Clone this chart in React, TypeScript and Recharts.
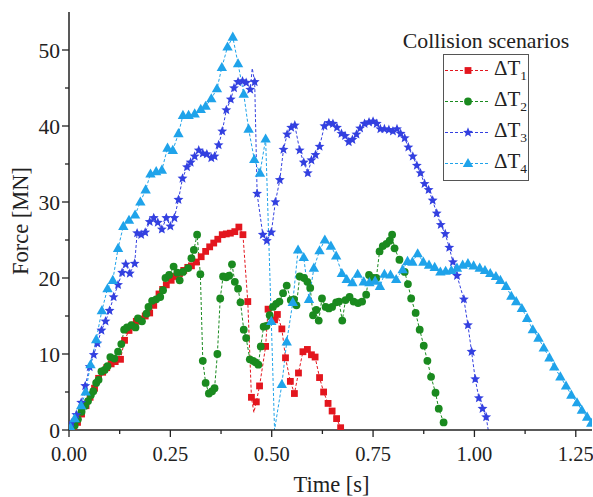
import React from "react";
import { LineChart, Line, XAxis, YAxis, Legend } from "recharts";

const FONT = '"Liberation Serif", "Times New Roman", serif';
const INK = "#222";

// [time s, force MN]
const dt1 = [
  [0.011, 0.2], [0.021, 1.0], [0.031, 2.1], [0.042, 3.2], [0.052, 4.3], [0.063, 5.5], [0.073, 6.8],
  [0.083, 7.6], [0.093, 8.2], [0.104, 8.7], [0.114, 9.0], [0.127, 9.3], [0.137, 11.8], [0.148, 13.1],
  [0.157, 13.8], [0.166, 14.3], [0.177, 14.6], [0.188, 15.0], [0.199, 15.4], [0.209, 16.4], [0.222, 17.9],
  [0.231, 18.5], [0.240, 19.1], [0.252, 19.7], [0.262, 20.2], [0.273, 20.6], [0.283, 21.0], [0.293, 21.4],
  [0.302, 21.6], [0.314, 22.1], [0.326, 22.8], [0.337, 23.5], [0.347, 24.1], [0.357, 24.6], [0.367, 25.1],
  [0.378, 25.7], [0.388, 25.8], [0.398, 25.9], [0.409, 26.1], [0.419, 26.7], [0.429, 25.7], [0.441, 16.9],
  [0.450, 4.3], [0.456, 2.3], [0.462, 3.7], [0.470, 5.8], [0.485, 11.0], [0.491, 15.9], [0.507, 14.5],
  [0.514, 15.2], [0.525, 13.3], [0.534, 9.5], [0.546, 6.4], [0.556, 4.8], [0.566, 7.5], [0.577, 10.3],
  [0.588, 10.6], [0.598, 9.9], [0.607, 9.6], [0.618, 6.9], [0.628, 5.0], [0.639, 3.5], [0.649, 2.5],
  [0.660, 1.5], [0.670, 0.3],
];

const dt2 = [
  [0.006, 0.1], [0.014, 0.6], [0.022, 1.4], [0.031, 2.4], [0.040, 3.2], [0.047, 3.8], [0.054, 4.6],
  [0.060, 5.1], [0.067, 6.2], [0.073, 6.6], [0.080, 7.7], [0.088, 7.9], [0.095, 8.4], [0.102, 9.6],
  [0.112, 9.4], [0.121, 10.3], [0.129, 11.3], [0.136, 13.2], [0.143, 13.5], [0.154, 13.8], [0.164, 13.5],
  [0.170, 14.7], [0.180, 14.3], [0.191, 15.3], [0.196, 16.2], [0.205, 17.0], [0.215, 17.2], [0.225, 17.5],
  [0.232, 18.4], [0.238, 20.0], [0.247, 20.4], [0.258, 21.5], [0.267, 20.7], [0.273, 19.7], [0.281, 20.8],
  [0.294, 21.3], [0.302, 22.6], [0.308, 23.7], [0.316, 25.7], [0.324, 20.5], [0.330, 9.1], [0.337, 6.2],
  [0.345, 4.8], [0.353, 5.1], [0.359, 5.5], [0.366, 10.0], [0.373, 17.3], [0.380, 20.2], [0.388, 20.1],
  [0.395, 20.3], [0.402, 21.8], [0.409, 19.5], [0.417, 18.6], [0.423, 16.8], [0.431, 13.2], [0.437, 12.1],
  [0.446, 9.3], [0.454, 9.1], [0.460, 8.9], [0.467, 8.6], [0.473, 11.0], [0.480, 13.6], [0.487, 13.7],
  [0.495, 15.1], [0.503, 16.2], [0.511, 16.6], [0.519, 16.9], [0.528, 18.0], [0.537, 19.0], [0.547, 17.1],
  [0.555, 17.2], [0.561, 16.4], [0.569, 20.2], [0.580, 20.0], [0.588, 19.5], [0.595, 18.7], [0.602, 15.1],
  [0.610, 15.8], [0.616, 14.4], [0.624, 17.3], [0.633, 16.2], [0.641, 16.0], [0.649, 16.2], [0.659, 16.8],
  [0.666, 16.9], [0.674, 14.4], [0.682, 17.1], [0.692, 17.5], [0.702, 16.9], [0.713, 16.7], [0.723, 16.9],
  [0.733, 17.8], [0.740, 20.4], [0.750, 20.0], [0.758, 20.0], [0.766, 23.5], [0.774, 24.2], [0.783, 24.5],
  [0.791, 24.9], [0.797, 25.7], [0.803, 23.9], [0.815, 22.4], [0.828, 20.8], [0.836, 19.2], [0.844, 17.3],
  [0.855, 15.4], [0.865, 13.2], [0.875, 11.1], [0.884, 9.1], [0.893, 7.0], [0.904, 4.9], [0.912, 2.8],
  [0.924, 1.0],
];

const dt3 = [
  [0.006, 0.9], [0.018, 2.0], [0.030, 3.6], [0.040, 5.8], [0.051, 8.3], [0.061, 9.9], [0.070, 11.4],
  [0.080, 13.1], [0.090, 14.3], [0.100, 15.7], [0.110, 17.5], [0.121, 19.1], [0.131, 20.7], [0.140, 21.8],
  [0.150, 20.6], [0.162, 21.9], [0.168, 25.9], [0.178, 25.7], [0.188, 26.0], [0.199, 27.4], [0.209, 27.9],
  [0.219, 27.3], [0.229, 26.4], [0.240, 27.9], [0.250, 26.8], [0.260, 27.9], [0.270, 30.3], [0.280, 33.1],
  [0.291, 34.6], [0.300, 35.2], [0.310, 36.0], [0.320, 36.8], [0.330, 36.4], [0.340, 36.3], [0.351, 35.8],
  [0.359, 36.0], [0.369, 37.5], [0.378, 39.3], [0.388, 42.1], [0.399, 43.5], [0.407, 45.0], [0.417, 45.8],
  [0.428, 45.9], [0.437, 45.7], [0.447, 44.8], [0.452, 47.6], [0.458, 45.8], [0.464, 31.1], [0.478, 25.7],
  [0.488, 24.9], [0.499, 26.0], [0.509, 30.0], [0.520, 32.9], [0.529, 36.9], [0.538, 38.9], [0.548, 39.8],
  [0.557, 40.1], [0.569, 36.8], [0.579, 35.2], [0.589, 33.8], [0.598, 35.5], [0.608, 36.2], [0.618, 37.3],
  [0.630, 40.0], [0.641, 40.4], [0.651, 40.3], [0.661, 39.8], [0.672, 39.0], [0.681, 38.7], [0.690, 37.9],
  [0.699, 38.2], [0.709, 38.9], [0.718, 39.7], [0.729, 40.3], [0.740, 40.5], [0.750, 40.6], [0.759, 40.3],
  [0.768, 39.6], [0.778, 39.6], [0.789, 39.5], [0.799, 39.3], [0.809, 39.6], [0.818, 39.0], [0.828, 38.4],
  [0.837, 37.2], [0.848, 36.0], [0.858, 34.8], [0.867, 33.8], [0.877, 32.4], [0.887, 31.6], [0.897, 30.2],
  [0.907, 28.5], [0.917, 27.0], [0.928, 25.8], [0.938, 24.0], [0.947, 22.1], [0.957, 20.3], [0.974, 17.2],
  [0.984, 13.8], [0.993, 10.3], [1.002, 6.7], [1.011, 4.2], [1.020, 2.8], [1.029, 1.7], [1.034, 0],
];

const dt4 = [
  [0.004, 0.3], [0.014, 1.5], [0.030, 3.2], [0.041, 5.0], [0.053, 8.6], [0.067, 11.9], [0.081, 15.7],
  [0.095, 18.6], [0.108, 19.7], [0.121, 23.9], [0.134, 26.8], [0.148, 27.6], [0.163, 28.3], [0.176, 30.0],
  [0.189, 31.6], [0.201, 33.7], [0.215, 34.0], [0.229, 34.2], [0.243, 37.1], [0.256, 36.8], [0.270, 39.0],
  [0.281, 41.4], [0.295, 41.4], [0.310, 41.6], [0.325, 42.2], [0.337, 42.6], [0.351, 43.6], [0.365, 44.9],
  [0.377, 47.7], [0.391, 50.4], [0.404, 51.7], [0.417, 48.2], [0.431, 44.2], [0.443, 39.6], [0.457, 35.6],
  [0.471, 33.8], [0.485, 38.3], [0.499, 14.3], [0.507, 0], [0.525, 6.0], [0.537, 11.6], [0.552, 16.8],
  [0.565, 23.7], [0.579, 22.7], [0.592, 17.2], [0.604, 21.3], [0.618, 23.6], [0.631, 25.0], [0.646, 24.2],
  [0.659, 22.9], [0.673, 20.6], [0.685, 19.8], [0.699, 19.4], [0.712, 20.5], [0.727, 19.5], [0.741, 19.4],
  [0.755, 19.6], [0.767, 18.9], [0.778, 20.5], [0.793, 20.4], [0.807, 19.8], [0.823, 21.1], [0.835, 22.2],
  [0.847, 22.1], [0.860, 23.2], [0.874, 22.1], [0.888, 21.7], [0.902, 21.4], [0.916, 20.8], [0.929, 20.9],
  [0.943, 21.0], [0.957, 21.3], [0.971, 21.7], [0.984, 21.9], [0.998, 21.6], [1.013, 21.3], [1.026, 21.0],
  [1.039, 20.6], [1.053, 20.2], [1.064, 19.7], [1.078, 18.9], [1.091, 17.6], [1.103, 16.9], [1.117, 16.0],
  [1.130, 14.7], [1.144, 13.2], [1.158, 12.1], [1.171, 10.8], [1.185, 9.5], [1.197, 8.3], [1.212, 7.0],
  [1.226, 5.8], [1.239, 4.6], [1.253, 3.6], [1.265, 2.6], [1.278, 1.7], [1.288, 0.9],
];

// samples that only the dashed line passes through (no marker drawn)
const lineOnly1 = [0.456];
const lineOnly2: number[] = [];
const lineOnly3 = [0.452, 1.034];
const lineOnly4 = [0.507];

const xTicks = [0, 0.125, 0.25, 0.375, 0.5, 0.625, 0.75, 0.875, 1, 1.125, 1.25];
const topTicks = [1, 2, 3, 4, 5, 6, 7, 8, 9, 10, 11, 12];
const yTicks = [0, 5, 10, 15, 20, 25, 30, 35, 40, 45, 50];

type Shape = "square" | "circle" | "star" | "triangle";

const series = [
  { key: "1", data: dt1, skip: lineOnly1, color: "#e3161e", shape: "square" as Shape },
  { key: "2", data: dt2, skip: lineOnly2, color: "#1a8a1f", shape: "circle" as Shape },
  { key: "3", data: dt3, skip: lineOnly3, color: "#3340e0", shape: "star" as Shape },
  { key: "4", data: dt4, skip: lineOnly4, color: "#1fa3ea", shape: "triangle" as Shape },
];

function starPath(x: number, y: number, R: number, r: number) {
  let d = "";
  for (let i = 0; i < 10; i++) {
    const a = -Math.PI / 2 + (i * Math.PI) / 5;
    const rad = i % 2 === 0 ? R : r;
    d += (i === 0 ? "M" : "L") + (x + rad * Math.cos(a)).toFixed(2) + "," + (y + rad * Math.sin(a)).toFixed(2);
  }
  return d + "Z";
}

function Marker({ shape, color, x, y }: { shape: Shape; color: string; x: number; y: number }) {
  if (shape === "square") return <rect x={x - 3.4} y={y - 3.4} width={6.8} height={6.8} fill={color} />;
  if (shape === "circle") return <circle cx={x} cy={y} r={3.9} fill={color} />;
  if (shape === "star") return <path d={starPath(x, y, 5.2, 2.3)} fill={color} />;
  return <path d={`M${x},${y - 5.5}L${x + 5.2},${y + 3.6}L${x - 5.2},${y + 3.6}Z`} fill={color} />;
}

const makeDot = (shape: Shape, color: string, skip: number[]) => (p: any) => {
  const { cx, cy, payload, index } = p;
  if (cx == null || cy == null || skip.includes(payload.t)) return <g key={index} />;
  return (
    <g key={index}>
      <Marker shape={shape} color={color} x={cx} y={cy} />
    </g>
  );
};

const isMajor = (v: number, step: number) => Math.abs(v / step - Math.round(v / step)) < 1e-6;

const BottomTick = ({ x, y, payload }: any) => {
  const major = isMajor(payload.value, 0.25);
  return (
    <g>
      <line x1={x} x2={x} y1={y} y2={y + (major ? 7 : 4)} stroke={INK} strokeWidth={1.3} />
      {major && (
        <text x={x} y={y + 31} textAnchor="middle" fontSize={20.5} fontFamily={FONT} fill={INK}>
          {payload.value.toFixed(2)}
        </text>
      )}
    </g>
  );
};

const LeftTick = ({ x, y, payload }: any) => {
  const major = isMajor(payload.value, 10);
  return (
    <g>
      <line x1={x} x2={x - (major ? 7 : 4)} y1={y} y2={y} stroke={INK} strokeWidth={1.3} />
      {major && (
        <text x={x - 9} y={y} dy="0.35em" textAnchor="end" fontSize={21.5} fontFamily={FONT} fill={INK}>
          {payload.value}
        </text>
      )}
    </g>
  );
};

const TopTick = ({ x, y }: any) => (
  <line x1={x} x2={x} y1={y} y2={y + 4} stroke={INK} strokeWidth={1.3} />
);

const RightTick = ({ x, y, payload }: any) => (
  <line x1={x} x2={x - (isMajor(payload.value, 10) ? 7 : 3.5)} y1={y} y2={y} stroke={INK} strokeWidth={1.3} />
);

function LegendBox() {
  return (
    <div style={{ fontFamily: FONT, color: INK, width: 170 }}>
      <div style={{ fontSize: 21.8, lineHeight: "24px", textAlign: "center", whiteSpace: "nowrap" }}>
        Collision scenarios
      </div>
      <div
        style={{
          marginLeft: 42,
          marginTop: 1,
          width: 86,
          height: 127,
          border: "1px solid #555",
          boxSizing: "border-box",
        }}
      >
        {series.map((s) => (
          <div key={s.key} style={{ height: 31, display: "flex", alignItems: "center" }}>
            <svg width={50} height={31} style={{ display: "block" }}>
              <line x1={1} x2={46} y1={15.5} y2={15.5} stroke={s.color} strokeWidth={1} strokeDasharray="3 2" />
              <Marker shape={s.shape} color={s.color} x={24} y={15.5} />
            </svg>
            <span style={{ fontSize: 21, lineHeight: "21px" }}>
              ΔT<sub style={{ fontSize: 13.5, lineHeight: "13px" }}>{s.key}</sub>
            </span>
          </div>
        ))}
      </div>
    </div>
  );
}

export default function App() {
  const axisLine = { stroke: INK, strokeWidth: 1.5 };
  return (
    <div style={{ fontFamily: FONT, padding: "8px 0 0 8px", width: 585, height: 489 }}>
      <style>{"html{overflow:hidden}body{margin:0}"}</style>
      <LineChart width={585} height={489} margin={{ top: 4, right: 1, bottom: 0, left: 0 }}>
        <XAxis
          dataKey="t"
          type="number"
          domain={[0, 1.29]}
          allowDataOverflow
          ticks={xTicks}
          interval={0}
          height={67}
          tickSize={0}
          tickMargin={0}
          tickLine={false}
          axisLine={axisLine}
          tick={<BottomTick />}
          label={({ viewBox }: any) => (
            <text
              x={viewBox.x + viewBox.width / 2 + 1}
              y={viewBox.y + 62}
              textAnchor="middle"
              fontSize={22.5}
              fontFamily={FONT}
              fill={INK}
            >
              Time [s]
            </text>
          )}
        />
        <XAxis
          xAxisId="top"
          orientation="top"
          type="number"
          domain={[0, 12.45]}
          allowDataOverflow
          ticks={topTicks}
          interval={0}
          height={0}
          tickSize={0}
          tickMargin={0}
          tickLine={false}
          axisLine={axisLine}
          tick={<TopTick />}
        />
        <YAxis
          type="number"
          domain={[0, 55]}
          allowDataOverflow
          ticks={yTicks}
          interval={0}
          width={61}
          tickSize={0}
          tickMargin={0}
          tickLine={false}
          axisLine={axisLine}
          tick={<LeftTick />}
          label={({ viewBox }: any) => {
            const cx = viewBox.x + 12;
            const cy = viewBox.y + viewBox.height / 2;
            return (
              <text
                x={cx}
                y={cy}
                transform={`rotate(-90 ${cx} ${cy})`}
                textAnchor="middle"
                dominantBaseline="central"
                fontSize={22.5}
                fontFamily={FONT}
                fill={INK}
              >
                Force [MN]
              </text>
            );
          }}
        />
        <YAxis
          yAxisId="right"
          orientation="right"
          type="number"
          domain={[0, 55]}
          allowDataOverflow
          ticks={yTicks}
          interval={0}
          width={0}
          tickSize={0}
          tickMargin={0}
          tickLine={false}
          axisLine={axisLine}
          tick={<RightTick />}
        />
        {series.map((s) => (
          <Line
            key={s.key}
            data={s.data.map(([t, f]) => ({ t, f }))}
            dataKey="f"
            type="linear"
            stroke={s.color}
            strokeWidth={1}
            strokeDasharray="3 2"
            dot={makeDot(s.shape, s.color, s.skip)}
            activeDot={false}
            isAnimationActive={false}
          />
        ))}
        <Legend
          layout="horizontal"
          verticalAlign="middle"
          align="center"
          wrapperStyle={{ position: "absolute", left: 393, top: 21, width: 170, height: "auto" }}
          content={() => <LegendBox />}
        />
      </LineChart>
    </div>
  );
}
